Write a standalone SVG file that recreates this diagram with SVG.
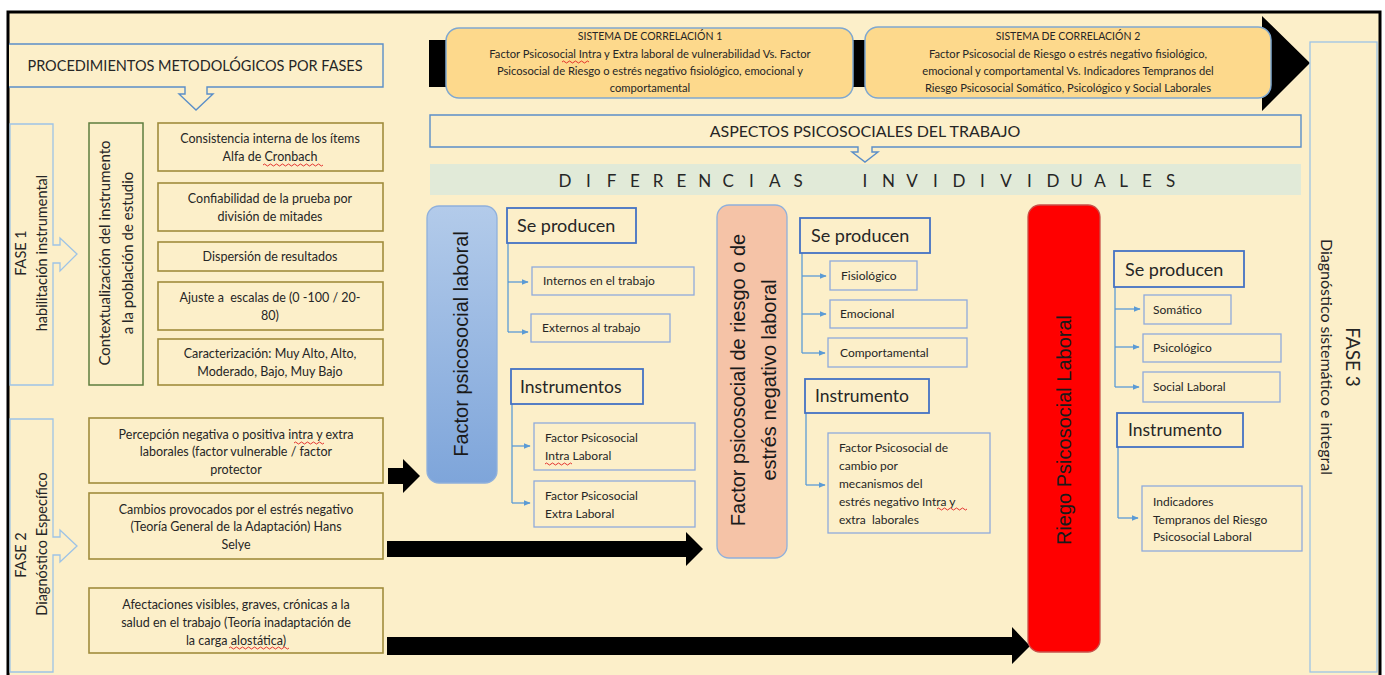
<svg xmlns="http://www.w3.org/2000/svg" width="1385" height="675" viewBox="0 0 1385 675">
<defs>
<style>
.t{font-family:Lato,"Open Sans","Liberation Sans",sans-serif;fill:#262626;white-space:pre}
.a{font-family:"Liberation Sans",Arial,sans-serif;fill:#1a1a1a}
.c{text-anchor:middle}
.fase{fill:none;stroke:#9DC3E6;stroke-width:1.3}
.ob{fill:#FCEFC9;stroke:#A08C3C;stroke-width:1.6}
.sb{fill:#FCEFC9;stroke:#8FAADC;stroke-width:1.3}
.hb{fill:#FCEFC9;stroke:#4472C4;stroke-width:1.8}
.br{fill:none;stroke:#5B9BD5;stroke-width:1.3}
.sq{fill:none;stroke:#E02020;stroke-width:0.9}
.cor{fill:#FDD98C;stroke:#7FA8D0;stroke-width:1.5}
</style>
<marker id="ah" viewBox="0 0 10 10" refX="9" refY="5" markerWidth="7" markerHeight="7" orient="auto" markerUnits="userSpaceOnUse">
<path d="M0,1 L10,5 L0,9 Z" fill="#5B9BD5"/>
</marker>
<linearGradient id="gb" x1="0" y1="0" x2="0" y2="1">
<stop offset="0" stop-color="#B3CBEA"/>
<stop offset="1" stop-color="#7EA5DA"/>
</linearGradient>
</defs>

<rect x="0" y="0" width="1385" height="675" fill="#ffffff"/>
<rect x="8" y="12" width="1372" height="700" fill="#FCEFC9" stroke="#000" stroke-width="3"/>

<g id="connectors">
<path d="M429,40 H1262 V16 L1310,63 L1262,111 V87 H429 Z" fill="#000"/>
<path d="M388,468 H403 V459 L420,476 L403,493 V484 H388 Z" fill="#000"/>
<path d="M387,541 H686 V532 L703,549 L686,566 V557 H387 Z" fill="#000"/>
<path d="M387,637 H1012 V627 L1030,646 L1012,664 V655 H387 Z" fill="#000"/>
<path class="br" d="M508,243 V332"/>
<path class="br" d="M508,282 H528" marker-end="url(#ah)"/>
<path class="br" d="M508,332 H528" marker-end="url(#ah)"/>
<path class="br" d="M512,404 V503"/>
<path class="br" d="M512,446 H530" marker-end="url(#ah)"/>
<path class="br" d="M512,503 H530" marker-end="url(#ah)"/>
<path class="br" d="M802,253 V353"/>
<path class="br" d="M802,276 H826" marker-end="url(#ah)"/>
<path class="br" d="M802,314 H826" marker-end="url(#ah)"/>
<path class="br" d="M802,353 H825" marker-end="url(#ah)"/>
<path class="br" d="M806,413 V485"/>
<path class="br" d="M806,485 H825" marker-end="url(#ah)"/>
<path class="br" d="M1115,287 V387"/>
<path class="br" d="M1115,309 H1140" marker-end="url(#ah)"/>
<path class="br" d="M1115,347 H1139" marker-end="url(#ah)"/>
<path class="br" d="M1115,387 H1139" marker-end="url(#ah)"/>
<path class="br" d="M1118,447 V518"/>
<path class="br" d="M1118,518 H1138" marker-end="url(#ah)"/>
</g>

<g id="procedimientos">
<path d="M9,44 H383 V87 H207 V94 H213 L196,110 L179,94 H185 V87 H9" fill="#FCEFC9" stroke="#5B8FC8" stroke-width="1.4"/>
<text class="t c" x="195" y="71" font-size="14.5">PROCEDIMIENTOS METODOLÓGICOS POR FASES</text>
</g>

<g id="fase1">
<path class="fase" d="M10,124 H53 V245 H60 V238 L77,254 L60,271 V263 H53 V385 H10 Z"/>
<text class="t c" transform="translate(20,253) rotate(-90)" dominant-baseline="central" font-size="14.5">FASE 1</text>
<text class="t c" transform="translate(41,253) rotate(-90)" dominant-baseline="central" font-size="14.5">habilitación instrumental</text>
</g>

<g id="fase2">
<path class="fase" d="M10,419 H53 V537 H60 V530 L77,546 L60,562 V555 H53 V672 H10 Z"/>
<text class="t c" transform="translate(20,555) rotate(-90)" dominant-baseline="central" font-size="14.5">FASE 2</text>
<text class="t c" transform="translate(41,544) rotate(-90)" dominant-baseline="central" font-size="14.5">Diagnóstico Específico</text>
</g>

<g id="contextualizacion">
<rect x="89" y="123" width="54" height="262" fill="none" stroke="#5E7E3E" stroke-width="1.5"/>
<text class="t c" transform="translate(104,253) rotate(-90)" dominant-baseline="central" font-size="15">Contextualización del instrumento</text>
<text class="t c" transform="translate(127,253) rotate(-90)" dominant-baseline="central" font-size="15">a la población de estudio</text>
</g>

<g id="consistencia">
<rect class="ob" x="158" y="123" width="225" height="48"/>
<text class="t c" x="270" y="143" font-size="12.5">Consistencia interna de los ítems</text>
<text class="t c" x="270" y="161" font-size="12.5">Alfa de Cronbach</text>
<path class="sq" d="M263,165 q1.5,-2 3,0 t3,0 t3,0 t3,0 t3,0 t3,0 t3,0 t3,0 t3,0 t3,0 t3,0 t3,0 t3,0 t3,0 t3,0 t3,0 t3,0 t3,0 t3,0 t3,0"/>
</g>
<g id="confiabilidad">
<rect class="ob" x="158" y="183" width="225" height="48"/>
<text class="t c" x="270" y="203" font-size="12.5">Confiabilidad de la prueba por</text>
<text class="t c" x="270" y="221" font-size="12.5">división de mitades</text>
</g>
<g id="dispersion">
<rect class="ob" x="158" y="242" width="225" height="29"/>
<text class="t c" x="270" y="261" font-size="12.5">Dispersión de resultados</text>
</g>
<g id="ajuste">
<rect class="ob" x="158" y="282" width="225" height="48"/>
<text class="t c" x="270" y="302" font-size="12.5" xml:space="preserve">Ajuste a  escalas de (0 -100 / 20-</text>
<text class="t c" x="270" y="320" font-size="12.5">80)</text>
</g>
<g id="caracterizacion">
<rect class="ob" x="158" y="339" width="225" height="46"/>
<text class="t c" x="270" y="358" font-size="12.5">Caracterización: Muy Alto, Alto,</text>
<text class="t c" x="270" y="376" font-size="12.5">Moderado, Bajo, Muy Bajo</text>
</g>

<g id="percepcion">
<rect class="ob" x="89" y="418" width="294" height="65"/>
<text class="t c" x="236" y="439" font-size="12.5">Percepción negativa o positiva intra y extra</text>
<text class="t c" x="236" y="456" font-size="12.5">laborales (factor vulnerable / factor</text>
<text class="t c" x="236" y="474" font-size="12.5">protector</text>
<path class="sq" d="M294,443 q1.5,-2 3,0 t3,0 t3,0 t3,0 t3,0 t3,0 t3,0 t3,0 t3,0 t3,0"/>
</g>
<g id="cambios">
<rect class="ob" x="89" y="493" width="294" height="66"/>
<text class="t c" x="236" y="514" font-size="12.5">Cambios provocados por el estrés negativo</text>
<text class="t c" x="236" y="531" font-size="12.5">(Teoría General de la Adaptación) Hans</text>
<text class="t c" x="236" y="549" font-size="12.5">Selye</text>
</g>
<g id="afectaciones">
<rect class="ob" x="89" y="588" width="294" height="65"/>
<text class="t c" x="236" y="609" font-size="12.5">Afectaciones visibles, graves, crónicas a la</text>
<text class="t c" x="236" y="627" font-size="12.5">salud en el trabajo (Teoría inadaptación de</text>
<text class="t c" x="236" y="645" font-size="12.5">la carga alostática)</text>
<path class="sq" d="M229,648 q1.5,-2 3,0 t3,0 t3,0 t3,0 t3,0 t3,0 t3,0 t3,0 t3,0 t3,0 t3,0 t3,0 t3,0 t3,0 t3,0 t3,0 t3,0 t3,0 t3,0 t3,0"/>
</g>

<g id="correlacion1">
<rect class="cor" x="446" y="28" width="407" height="70" rx="13"/>
<text class="t c" x="650" y="40" font-size="10.5">SISTEMA DE CORRELACIÓN 1</text>
<text class="t c" x="650" y="58" font-size="11.2">Factor Psicosocial Intra y Extra laboral de vulnerabilidad Vs. Factor</text>
<text class="t c" x="650" y="75" font-size="11.2">Psicosocial de Riesgo o estrés negativo fisiológico, emocional y</text>
<text class="t c" x="650" y="92" font-size="11.2">comportamental</text>
<path class="sq" d="M562,62 q1.5,-2 3,0 t3,0 t3,0 t3,0 t3,0 t3,0 t3,0 t3,0 t3,0"/>
</g>
<g id="correlacion2">
<rect class="cor" x="865" y="27" width="406" height="71" rx="13"/>
<text class="t c" x="1068" y="40" font-size="10.5">SISTEMA DE CORRELACIÓN 2</text>
<text class="t c" x="1068" y="58" font-size="11.2">Factor Psicosocial de Riesgo o estrés negativo fisiológico,</text>
<text class="t c" x="1068" y="75" font-size="11.2">emocional y comportamental Vs. Indicadores Tempranos del</text>
<text class="t c" x="1068" y="92" font-size="11.2">Riesgo Psicosocial Somático, Psicológico y Social Laborales</text>
</g>

<g id="aspectos">
<path d="M430,115 H1301 V147 H872 V152 H878 L865,162 L852,152 H858 V147 H430 Z" fill="#FCEFC9" stroke="#5B8FC8" stroke-width="1.4"/>
<text class="t c" x="865" y="137" font-size="16">ASPECTOS PSICOSOCIALES DEL TRABAJO</text>
</g>

<g id="diferencias">
<rect x="430" y="164" width="871" height="31" fill="#E1EAD8"/>
<text class="t c" y="187" font-size="17" fill="#333" x="565 588.3 611.6 634.9 658.2 681.5 704.8 728.1 751.4 774.7 798 865 888.5 912 935.5 959 982.5 1006 1029.5 1053 1076.5 1100 1123.5 1147 1170.5">DIFERENCIASINVIDIVIDUALES</text>
</g>

<g id="factor-laboral">
<rect x="427" y="206" width="70" height="277" rx="12" fill="url(#gb)" stroke="#8FB0DC" stroke-width="1.3"/>
<text class="a c" transform="translate(461,344) rotate(-90)" dominant-baseline="central" font-size="20">Factor psicosocial laboral</text>
</g>
<g id="fl-seproducen">
<rect class="hb" x="507" y="208" width="129" height="35"/>
<text class="t" x="517" y="232" font-size="18">Se producen</text>
</g>
<g id="fl-internos">
<rect class="sb" x="532" y="267" width="162" height="28"/>
<text class="t" x="543" y="285" font-size="12">Internos en el trabajo</text>
</g>
<g id="fl-externos">
<rect class="sb" x="531" y="314" width="139" height="28"/>
<text class="t" x="542" y="332" font-size="12">Externos al trabajo</text>
</g>
<g id="fl-instrumentos">
<rect class="hb" x="511" y="369" width="132" height="35"/>
<text class="t" x="520" y="393" font-size="17.5">Instrumentos</text>
</g>
<g id="fl-intra">
<rect class="sb" x="534" y="423" width="161" height="47"/>
<text class="t" x="545" y="442" font-size="12">Factor Psicosocial</text>
<text class="t" x="545" y="460" font-size="12">Intra Laboral</text>
<path class="sq" d="M545,464 q1.5,-2 3,0 t3,0 t3,0 t3,0 t3,0 t3,0 t3,0 t3,0 t3,0"/>
</g>
<g id="fl-extra">
<rect class="sb" x="534" y="481" width="161" height="46"/>
<text class="t" x="545" y="500" font-size="12">Factor Psicosocial</text>
<text class="t" x="545" y="518" font-size="12">Extra Laboral</text>
</g>

<g id="factor-riesgo">
<rect x="717" y="205" width="70" height="353" rx="12" fill="#F5C3A7" stroke="#8FB0DC" stroke-width="1.3"/>
<text class="a c" transform="translate(738,380) rotate(-90)" dominant-baseline="central" font-size="20">Factor psicosocial de riesgo o de</text>
<text class="a c" transform="translate(769,380) rotate(-90)" dominant-baseline="central" font-size="20">estrés negativo laboral</text>
</g>
<g id="fr-seproducen">
<rect class="hb" x="800" y="218" width="130" height="35"/>
<text class="t" x="811" y="242" font-size="18">Se producen</text>
</g>
<g id="fr-fisiologico">
<rect class="sb" x="830" y="261" width="87" height="29"/>
<text class="t" x="841" y="280" font-size="12">Fisiológico</text>
</g>
<g id="fr-emocional">
<rect class="sb" x="830" y="300" width="137" height="28"/>
<text class="t" x="840" y="318" font-size="12">Emocional</text>
</g>
<g id="fr-comportamental">
<rect class="sb" x="828" y="338" width="139" height="29"/>
<text class="t" x="840" y="357" font-size="12">Comportamental</text>
</g>
<g id="fr-instrumento">
<rect class="hb" x="805" y="379" width="124" height="34"/>
<text class="t" x="815" y="402" font-size="17.5">Instrumento</text>
</g>
<g id="fr-cambio">
<rect class="sb" x="828" y="433" width="162" height="100"/>
<text class="t" x="839" y="452" font-size="12">Factor Psicosocial de</text>
<text class="t" x="839" y="470" font-size="12">cambio por</text>
<text class="t" x="839" y="488" font-size="12">mecanismos del</text>
<text class="t" x="839" y="506" font-size="12">estrés negativo Intra y</text>
<text class="t" x="839" y="524" font-size="12" xml:space="preserve">extra  laborales</text>
<path class="sq" d="M937,509 q1.5,-2 3,0 t3,0 t3,0 t3,0 t3,0 t3,0 t3,0 t3,0 t3,0 t3,0"/>
</g>

<g id="riesgo-laboral">
<rect x="1028" y="205" width="72" height="447" rx="12" fill="#FF0000" stroke="#C8504A" stroke-width="1.3"/>
<text class="a c" transform="translate(1064,430) rotate(-90)" dominant-baseline="central" font-size="20">Riego Psicosocial Laboral</text>
</g>
<g id="rl-seproducen">
<rect class="hb" x="1114" y="251" width="130" height="36"/>
<text class="t" x="1125" y="276" font-size="18">Se producen</text>
</g>
<g id="rl-somatico">
<rect class="sb" x="1144" y="295" width="87" height="29"/>
<text class="t" x="1153" y="314" font-size="12">Somático</text>
</g>
<g id="rl-psicologico">
<rect class="sb" x="1143" y="334" width="138" height="28"/>
<text class="t" x="1153" y="352" font-size="12">Psicológico</text>
</g>
<g id="rl-social">
<rect class="sb" x="1143" y="372" width="137" height="30"/>
<text class="t" x="1153" y="391" font-size="12">Social Laboral</text>
</g>
<g id="rl-instrumento">
<rect class="hb" x="1117" y="413" width="126" height="34"/>
<text class="t" x="1128" y="436" font-size="17.5">Instrumento</text>
</g>
<g id="rl-indicadores">
<rect class="sb" x="1142" y="486" width="160" height="65"/>
<text class="t" x="1153" y="506" font-size="12">Indicadores</text>
<text class="t" x="1153" y="524" font-size="12">Tempranos del Riesgo</text>
<text class="t" x="1153" y="541" font-size="12">Psicosocial Laboral</text>
</g>

<g id="fase3">
<rect class="fase" x="1310" y="42" width="67" height="630"/>
<text class="t c" transform="translate(1353,357) rotate(90)" dominant-baseline="central" font-size="19">FASE 3</text>
<text class="t c" transform="translate(1327,357) rotate(90)" dominant-baseline="central" font-size="16">Diagnóstico sistemático e integral</text>
</g>
</svg>
